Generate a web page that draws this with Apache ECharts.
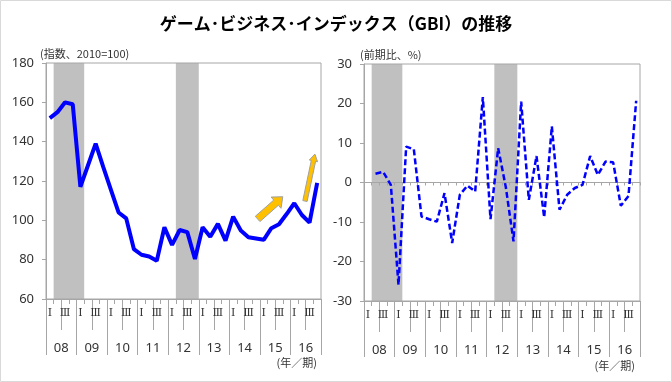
<!DOCTYPE html>
<html><head><meta charset="utf-8">
<script src="https://cdn.jsdelivr.net/npm/echarts@6/dist/echarts.min.js"></script>
<style>html,body{margin:0;padding:0;background:#fff}#c{width:672px;height:382px}</style>
</head><body><div id="c"></div><script>
// ---- data ----
const years = ['08','09','10','11','12','13','14','15','16'];
const quarterMarks = ['Ⅰ','','Ⅲ',''];
const gbiIndex = [152,155,160,159,117,128,139,127,115.5,104,101,85.4,82.5,81.6,79.4,96.5,87.5,95.1,94,80.3,96.5,91.7,98.2,89.7,101.9,94.8,91.4,90.8,90.1,96,98,103.2,108.7,102.7,98.8,119.1];
const gbiChange = [null,2.2,2.7,-0.6,-25.9,9.1,8.4,-8.6,-9.3,-9.9,-2.7,-15.3,-3.1,-0.8,-2.3,21.6,-9.3,8.7,-1.2,-14.9,20.5,-4.4,6.7,-8.8,14.2,-6.9,-3.1,-1.4,-0.6,6.7,1.9,5.3,5.1,-5.9,-3.4,20.7];
const recessionStart = [1, 17];   // first shaded quarter (index)
const recessionEnd = [4, 19];     // last shaded quarter (index)
const leftTicks = {min:60, max:180, interval:20};
const rightTicks = {min:-30, max:30, interval:10};
// arrows in data space: [quarterIndex, value]
const arrows = [
  {from:[27.2,100.7], to:[30.5,112], shaft:3.5, head:7.5, headLen:9},
  {from:[33.4,109.8], to:[34.7,133.7], shaft:2.2, head:4.2, headLen:7}
];

// ---- derived categories ----
const quarters = [], halves = [];
years.forEach(y => { for (let q=1;q<=4;q++) quarters.push(y+'-'+q); halves.push(y+'a', y+'b'); });
const recessions = recessionStart.map((s,i)=>[s, recessionEnd[i]]);

const AX = '#A6A6A6', TXT = '#333', SHADE = '#C0C0C0';
const FONT = "'Noto Sans', 'Noto Sans CJK JP', sans-serif";

function quarterAxis(grid, opts) {
  return Object.assign({
    type:'category', gridIndex:grid, data:quarters, position:'bottom',
    axisLine:{show:true, onZero:false, lineStyle:{color:AX}},
    axisTick:{show:true, interval:0, length:5, lineStyle:{color:AX}},
    axisLabel:{show:true, interval:0, margin:9, color:TXT, fontSize:11, fontFamily:"'DejaVu Serif', serif",
      formatter:(v,i)=> quarterMarks[i%4]},
    splitLine:{show:false}
  }, opts||{});
}
function halfAxis(grid) {
  return {type:'category', gridIndex:grid, data:halves, position:'bottom',
    axisLine:{show:false, onZero:false}, axisTick:{show:true, interval:0, length:31, lineStyle:{color:AX}},
    axisLabel:{show:false}, splitLine:{show:false}};
}
function yearAxis(grid) {
  return {type:'category', gridIndex:grid, data:years, position:'bottom',
    axisLine:{show:false, onZero:false}, axisTick:{show:true, interval:0, length:56, lineStyle:{color:AX}},
    axisLabel:{show:true, interval:0, margin:43, color:TXT, fontSize:13, fontFamily:FONT},
    splitLine:{show:false}};
}
function valAxis(grid, t) {
  return {type:'value', gridIndex:grid, min:t.min, max:t.max, interval:t.interval,
    axisLine:{show:true, lineStyle:{color:AX}},
    axisTick:{show:true, length:4, lineStyle:{color:AX}},
    axisLabel:{margin:12, color:TXT, fontSize:13, fontFamily:FONT},
    splitLine:{show:false}};
}
function shadeSeries(xi, yi) {
  return {type:'custom', xAxisIndex:xi, yAxisIndex:yi, data:recessions, silent:true, z:-1,
    encode:{x:[0,1]},
    renderItem:(params, api) => {
      const cs = params.coordSys;
      const w = api.size([1,0])[0];
      const x0 = api.coord([api.value(0), 0])[0] - w/2;
      const x1 = api.coord([api.value(1), 0])[0] + w/2;
      return {type:'rect', shape:{x:x0, y:cs.y, width:x1-x0, height:cs.height}, style:{fill:SHADE}};
    }};
}

const chart = echarts.init(document.getElementById('c'), null, {renderer:'canvas'});
chart.setOption({
  animation:false,
  title:{text:'ゲーム･ビジネス･インデックス（GBI）の推移', left:'center', top:10,
    textStyle:{fontSize:17, fontWeight:'bold', color:'#000', fontFamily:"'Noto Sans CJK JP', sans-serif"}},
  grid:[
    {left:46, top:63, width:275, height:236, show:true, borderColor:AX, borderWidth:1},
    {left:364, top:64, width:276, height:237, show:true, borderColor:AX, borderWidth:1}
  ],
  xAxis:[
    quarterAxis(0),
    halfAxis(0),
    yearAxis(0),
    quarterAxis(1, {axisLine:{show:true, onZero:true, lineStyle:{color:AX}}, axisTick:{show:true, interval:0, length:3, lineStyle:{color:AX}}, axisLabel:{show:false}}),
    quarterAxis(1),
    halfAxis(1),
    yearAxis(1)
  ],
  yAxis:[valAxis(0, leftTicks), valAxis(1, rightTicks)],
  series:[
    shadeSeries(0, 0),
    {type:'line', xAxisIndex:0, yAxisIndex:0, data:gbiIndex, symbol:'none', lineStyle:{color:'#0000FF', width:4}, z:3},
    shadeSeries(3, 1),
    {type:'line', xAxisIndex:3, yAxisIndex:1, data:gbiChange, symbol:'none', lineStyle:{color:'#0000FF', width:2.5, type:[6,3]}, z:3}
  ]
});

function toPx(f, v) {
  const p0 = chart.convertToPixel({xAxisIndex:0, yAxisIndex:0}, [0, v]);
  const p1 = chart.convertToPixel({xAxisIndex:0, yAxisIndex:0}, [1, v]);
  return [p0[0] + f*(p1[0]-p0[0]), p0[1]];
}
function arrowPoly(a) {
  const t = toPx(a.from[0], a.from[1]), h = toPx(a.to[0], a.to[1]);
  const dx = h[0]-t[0], dy = h[1]-t[1], L = Math.hypot(dx,dy);
  const ux = dx/L, uy = dy/L, nx = -uy, ny = ux;
  const nk = [h[0]-ux*a.headLen, h[1]-uy*a.headLen];
  const P = (b,s)=>[b[0]+nx*s, b[1]+ny*s];
  return [P(t,a.shaft), P(nk,a.shaft), P(nk,a.head), h, P(nk,-a.head), P(nk,-a.shaft), P(t,-a.shaft)];
}
const graphics = arrows.map(a => ({type:'polygon', shape:{points:arrowPoly(a)}, style:{fill:'#FFC000', stroke:'#A0A0A0', lineWidth:1}, z:10}));
graphics.push(
  {type:'text', left:40, top:48, style:{text:'(指数、2010=100)', fontSize:11, fill:TXT, fontFamily:"'Noto Sans CJK JP', sans-serif"}},
  {type:'text', left:360, top:49, style:{text:'(前期比、%)', fontSize:11, fill:TXT, fontFamily:"'Noto Sans CJK JP', sans-serif"}},
  {type:'text', right:672-317, top:357, style:{text:'(年／期)', fontSize:11, fill:TXT, fontFamily:"'Noto Sans CJK JP', sans-serif"}},
  {type:'text', right:672-635, top:360, style:{text:'(年／期)', fontSize:11, fill:TXT, fontFamily:"'Noto Sans CJK JP', sans-serif"}},
  {type:'rect', shape:{x:0.5, y:0.5, width:671, height:381}, style:{fill:'none', stroke:'#D9D9D9', lineWidth:1}, silent:true}
);
chart.setOption({graphic:graphics});
</script></body></html>
